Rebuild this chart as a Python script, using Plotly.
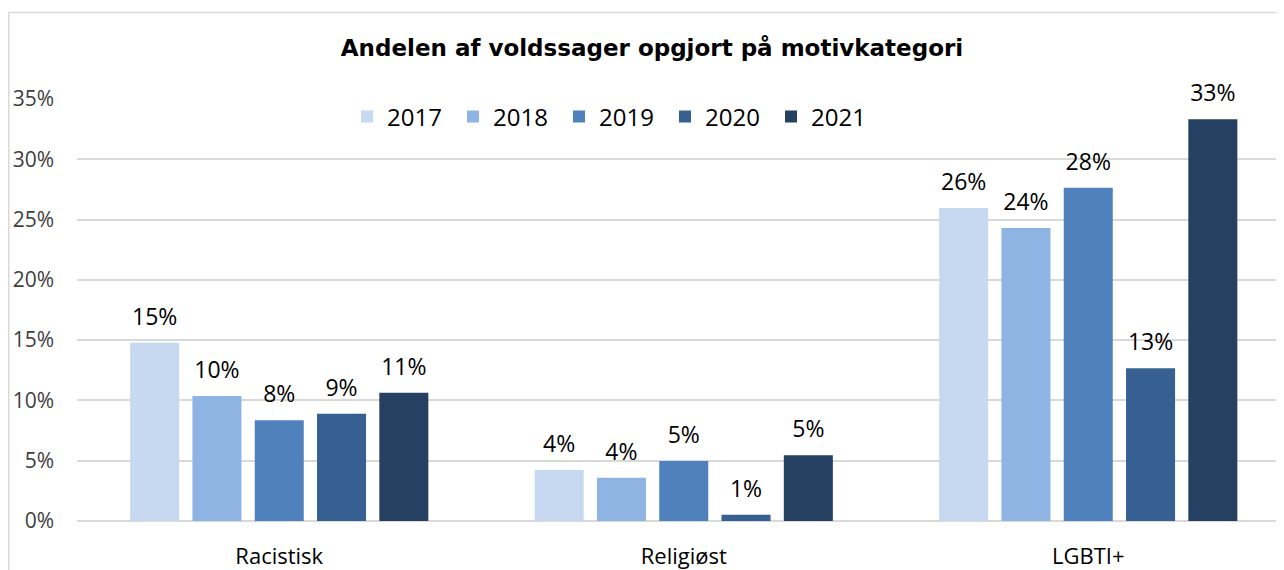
import plotly.graph_objects as go

categories = ["Racistisk", "Religiøst", "LGBTI+"]
years = ["2017", "2018", "2019", "2020", "2021"]
values = {
    "2017": [0.1478, 0.0423, 0.2595],
    "2018": [0.1036, 0.0359, 0.2430],
    "2019": [0.0835, 0.0498, 0.2764],
    "2020": [0.0890, 0.0052, 0.1266],
    "2021": [0.1064, 0.0545, 0.3333],
}
colors = ["#C6D9F1", "#8EB4E3", "#4F81BD", "#366092", "#254061"]
title = "Andelen af voldssager opgjort på motivkategori"
ytick_vals = [0, 0.05, 0.10, 0.15, 0.20, 0.25, 0.30, 0.35]
ytick_text = ["0%", "5%", "10%", "15%", "20%", "25%", "30%", "35%"]

FONT = "Open Sans"

fig = go.Figure()
for y, c in zip(years, colors):
    fig.add_trace(go.Bar(
        name=y, x=categories, y=values[y],
        marker=dict(color=c, line=dict(width=0)),
        cliponaxis=False,
    ))
for y in years:
    fig.add_trace(go.Scatter(
        x=categories, y=values[y], mode="markers+text",
        marker=dict(size=18, opacity=0),
        texttemplate="%{y:.0%}", textposition="top center",
        textfont=dict(family=FONT, size=23, color="#000000"),
        showlegend=False, hoverinfo="skip", cliponaxis=False,
    ))

# page body has an 8px margin
W, H = 1276, 562
L, R, T, B = 69, 0, 91, 49
pw = W - L - R
ph = H - T - B
catw = 404.5

fig.update_layout(
    width=W, height=H,
    margin=dict(l=L, r=R, t=T, b=B, pad=0),
    paper_bgcolor="white", plot_bgcolor="white",
    barmode="group", bargap=0.23, bargroupgap=0.213,
    scattermode="group", scattergap=0.23,
    title=dict(text="<b>" + title + "</b>", x=644 / W, xanchor="center",
               y=1 - 40 / H, yanchor="middle",
               font=dict(family="DejaVu Sans", size=23, color="#000000")),
    legend=dict(orientation="h", x=(604 - L) / pw, xanchor="center",
                y=(H - B - 109) / ph, yanchor="middle",
                font=dict(family=FONT, size=24, color="#000000"),
                entrywidth=61, entrywidthmode="pixels",
                itemclick=False, bgcolor="rgba(0,0,0,0)"),
    showlegend=True,
    font=dict(family=FONT),
    xaxis=dict(range=[-0.5, -0.5 + pw / catw], showgrid=False,
               showline=False, ticks="",
               tickfont=dict(family=FONT, size=22, color="#000000"),
               ticklabelstandoff=20),
    yaxis=dict(range=[0, 0.35], tickvals=ytick_vals, ticktext=ytick_text,
               showgrid=True, gridcolor="#D9D9D9", gridwidth=1.5,
               zeroline=True, zerolinecolor="#D9D9D9", zerolinewidth=2,
               showline=False, ticks="",
               tickfont=dict(family=FONT, size=21, color="#404040"),
               ticklabelstandoff=22),
    shapes=[dict(type="rect", xref="paper", yref="paper",
                 x0=(0.75 - L) / pw, x1=1.05,
                 y0=-0.3, y1=(H - B - 4.5) / ph,
                 line=dict(color="#D9D9D9", width=1.5), layer="below")],
)

fig.write_html("out.html")
